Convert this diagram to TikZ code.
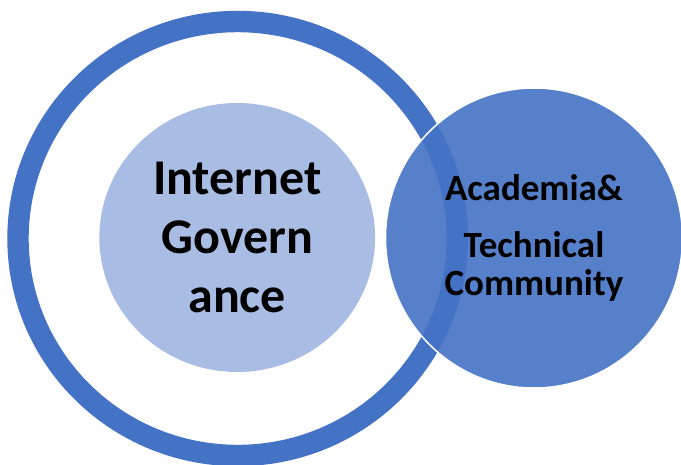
\documentclass[tikz,border=0pt]{standalone}
\usepackage{fontspec}
\setmainfont{Carlito}
\usetikzlibrary{shapes.geometric}

\definecolor{ringblue}{RGB}{68,114,196}
\definecolor{coreblue}{RGB}{168,188,228}

\begin{document}
\begin{tikzpicture}[x=1pt, y=-1pt,
        bubble/.style={ellipse, inner sep=0pt, align=center}]
        % Canvas
        \useasboundingbox (0,0) rectangle (681,464);
        
        % Outer ring
        \node[bubble, draw=ringblue, line width=21.4pt, minimum width=439.4pt, minimum height=434pt] (ring) at (237.7,238.5) {};
        
        % Inner circle
        \node[bubble, fill=coreblue, minimum width=275.7pt, minimum height=269pt,
              font=\bfseries\fontsize{50}{58.6}\selectfont] (gov) at (237.2,237.5) {Internet\\Govern\\ance};
        
        % Right circle
        \node[bubble, fill=ringblue, fill opacity=0.9, text opacity=1, draw=white, line width=1.5pt,
              minimum width=297pt, minimum height=300pt,
              font=\bfseries\fontsize{37}{38.3}\selectfont] (tech) at (534,238) {Academia\&\\[18.5pt]Technical\\Community};
\end{tikzpicture}
\end{document}
